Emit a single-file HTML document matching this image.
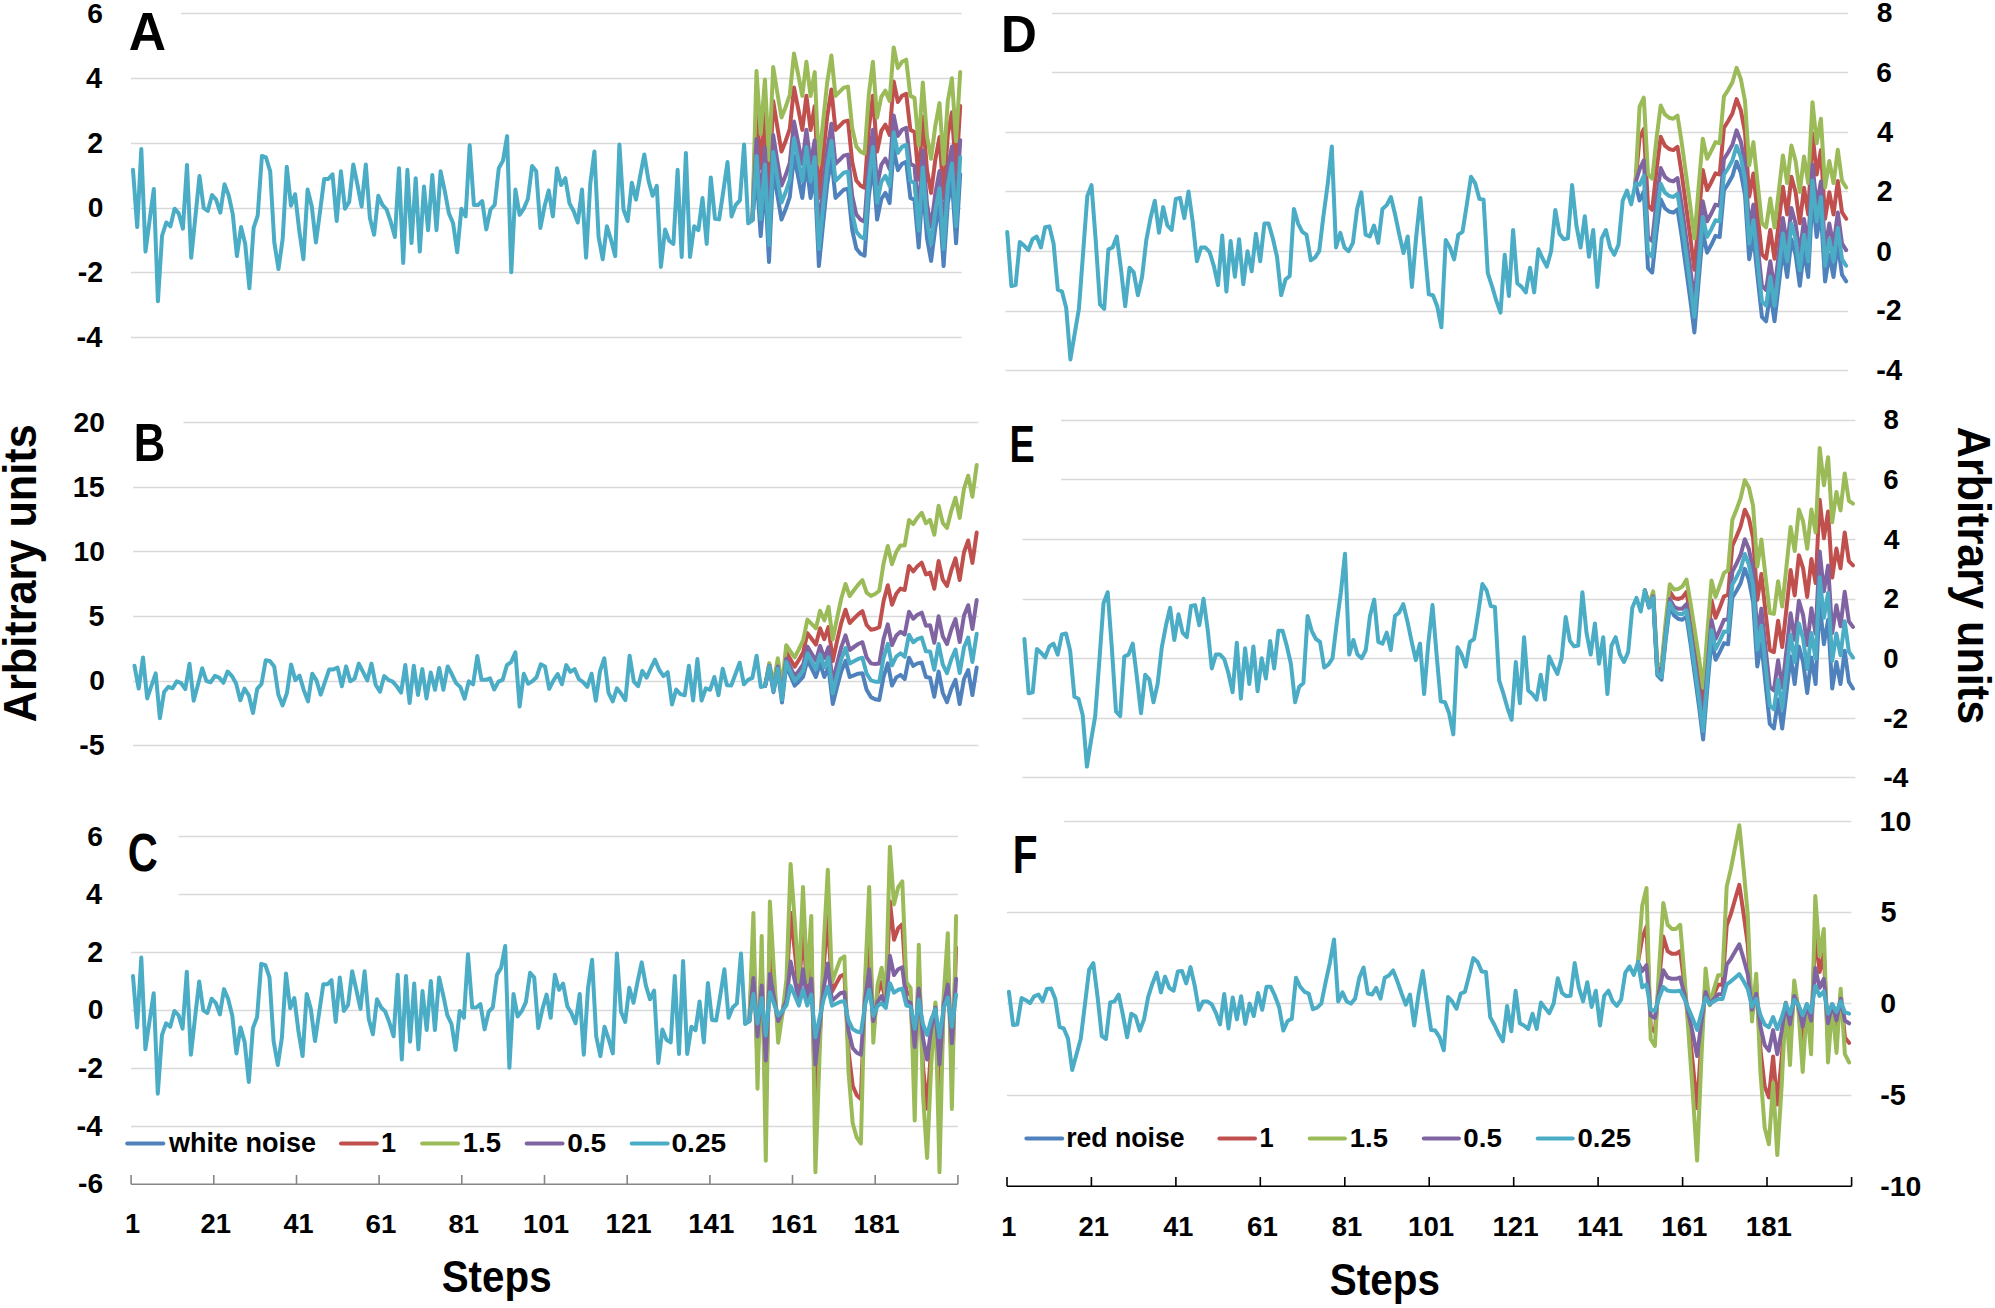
<!DOCTYPE html><html><head><meta charset="utf-8"><title>Figure</title><style>html,body{margin:0;padding:0;background:#fff;width:1995px;height:1308px;overflow:hidden}</style></head><body><svg width="1995" height="1308" viewBox="0 0 1995 1308" style="display:block;font-family:'Liberation Sans', Arial, sans-serif;font-weight:bold">
<rect width="1995" height="1308" fill="#fff"/>
<line x1="181" y1="13.5" x2="961.7" y2="13.5" stroke="#D9D9D9" stroke-width="1.3"/>
<line x1="131" y1="78.5" x2="961.7" y2="78.5" stroke="#D9D9D9" stroke-width="1.3"/>
<line x1="131" y1="143.5" x2="961.7" y2="143.5" stroke="#D9D9D9" stroke-width="1.3"/>
<line x1="131" y1="208.5" x2="961.7" y2="208.5" stroke="#D9D9D9" stroke-width="1.3"/>
<line x1="131" y1="272.5" x2="961.7" y2="272.5" stroke="#D9D9D9" stroke-width="1.3"/>
<line x1="131" y1="337.5" x2="961.7" y2="337.5" stroke="#D9D9D9" stroke-width="1.3"/>
<polyline points="752.4,220.2 756.5,173.2 760.7,236.1 764.9,181.4 769.0,261.9 773.2,169.0 777.3,194.8 781.5,219.6 785.6,209.3 789.8,196.9 794.0,155.6 798.1,176.3 802.3,197.9 806.4,163.9 810.6,197.9 814.7,174.2 818.9,266.1 823.1,223.7 827.2,184.5 831.4,157.7 835.5,197.9 839.7,193.8 843.8,189.7 848.0,188.6 852.2,229.9 856.3,248.5 860.5,253.7 864.6,255.7 868.8,196.9 872.9,163.9 877.1,219.6 881.3,199.0 885.4,192.8 889.6,203.1 893.7,149.4 897.9,170.1 902.0,163.9 906.2,161.8 910.4,197.9 914.5,200.0 918.7,247.5 922.8,184.5 927.0,238.2 931.1,260.9 935.3,227.9 939.5,205.2 943.6,266.1 947.8,203.1 951.9,180.4 956.1,243.3 960.2,174.2" fill="none" stroke="#4F81BD" stroke-width="4.0" stroke-linejoin="round" stroke-linecap="round"/>
<polyline points="752.4,220.2 756.5,105.1 760.7,168.1 764.9,113.4 769.0,193.9 773.2,101.0 777.3,126.8 781.5,151.6 785.6,141.2 789.8,128.9 794.0,87.6 798.1,108.2 802.3,129.9 806.4,95.8 810.6,129.9 814.7,106.1 818.9,198.0 823.1,155.7 827.2,116.5 831.4,89.6 835.5,129.9 839.7,125.8 843.8,121.6 848.0,120.6 852.2,161.9 856.3,180.5 860.5,185.6 864.6,187.7 868.8,128.9 872.9,95.8 877.1,151.6 881.3,130.9 885.4,124.7 889.6,135.0 893.7,81.4 897.9,102.0 902.0,95.8 906.2,93.8 910.4,129.9 914.5,132.0 918.7,179.4 922.8,116.5 927.0,170.1 931.1,192.9 935.3,159.8 939.5,137.1 943.6,198.0 947.8,135.0 951.9,112.3 956.1,175.3 960.2,106.1" fill="none" stroke="#C0504D" stroke-width="4.0" stroke-linejoin="round" stroke-linecap="round"/>
<polyline points="752.4,220.2 756.5,71.1 760.7,134.1 764.9,79.4 769.0,159.9 773.2,67.0 777.3,92.8 781.5,117.5 785.6,107.2 789.8,94.8 794.0,53.5 798.1,74.2 802.3,95.9 806.4,61.8 810.6,95.9 814.7,72.1 818.9,164.0 823.1,121.7 827.2,82.4 831.4,55.6 835.5,95.9 839.7,91.7 843.8,87.6 848.0,86.6 852.2,127.9 856.3,146.4 860.5,151.6 864.6,153.7 868.8,94.8 872.9,61.8 877.1,117.5 881.3,96.9 885.4,90.7 889.6,101.0 893.7,47.4 897.9,68.0 902.0,61.8 906.2,59.7 910.4,95.9 914.5,97.9 918.7,145.4 922.8,82.4 927.0,136.1 931.1,158.8 935.3,125.8 939.5,103.1 943.6,164.0 947.8,101.0 951.9,78.3 956.1,141.3 960.2,72.1" fill="none" stroke="#9BBB59" stroke-width="4.0" stroke-linejoin="round" stroke-linecap="round"/>
<polyline points="752.4,220.2 756.5,139.1 760.7,202.1 764.9,147.4 769.0,227.9 773.2,135.0 777.3,160.8 781.5,185.6 785.6,175.3 789.8,162.9 794.0,121.6 798.1,142.2 802.3,163.9 806.4,129.8 810.6,163.9 814.7,140.2 818.9,232.0 823.1,189.7 827.2,150.5 831.4,123.7 835.5,163.9 839.7,159.8 843.8,155.6 848.0,154.6 852.2,195.9 856.3,214.5 860.5,219.6 864.6,221.7 868.8,162.9 872.9,129.8 877.1,185.6 881.3,164.9 885.4,158.7 889.6,169.1 893.7,115.4 897.9,136.0 902.0,129.8 906.2,127.8 910.4,163.9 914.5,166.0 918.7,213.5 922.8,150.5 927.0,204.2 931.1,226.9 935.3,193.8 939.5,171.1 943.6,232.0 947.8,169.1 951.9,146.4 956.1,209.3 960.2,140.2" fill="none" stroke="#8064A2" stroke-width="4.0" stroke-linejoin="round" stroke-linecap="round"/>
<polyline points="133.0,169.8 137.2,227.1 141.3,149.1 145.5,251.6 149.6,220.2 153.8,188.9 157.9,301.3 162.1,235.5 166.3,222.5 170.4,226.3 174.6,208.7 178.7,213.3 182.9,228.6 187.0,164.9 191.2,257.7 195.4,216.7 199.5,175.9 203.7,208.0 207.8,211.0 212.0,195.0 216.1,199.6 220.3,212.6 224.5,184.3 228.6,195.0 232.8,214.1 236.9,256.1 241.1,227.1 245.2,243.9 249.4,288.3 253.6,227.9 257.7,215.6 261.9,156.0 266.0,157.5 270.2,171.3 274.3,242.4 278.5,269.1 282.7,238.6 286.8,166.7 291.0,205.7 295.1,194.2 299.3,230.9 303.4,259.2 307.6,189.6 311.8,206.5 315.9,242.4 320.1,211.0 324.2,178.9 328.4,178.9 332.5,174.3 336.7,221.0 340.9,171.3 345.0,208.7 349.2,201.9 353.3,164.4 357.5,185.0 361.6,206.5 365.8,164.4 369.9,217.9 374.1,234.7 378.3,195.7 382.4,204.9 386.6,209.5 390.7,221.7 394.9,237.0 399.0,168.2 403.2,263.0 407.4,169.8 411.5,243.1 415.7,178.2 419.8,251.6 424.0,186.6 428.1,230.2 432.3,175.1 436.5,230.2 440.6,171.3 444.8,191.2 448.9,213.3 453.1,223.3 457.2,252.3 461.4,208.7 465.6,216.4 469.7,145.3 473.9,204.9 478.0,204.9 482.2,201.1 486.3,229.4 490.5,209.5 494.7,204.9 498.8,168.2 503.0,160.6 507.1,136.1 511.3,272.2 515.4,189.6 519.6,214.9 523.8,208.7 527.9,198.8 532.1,165.9 536.2,171.3 540.4,227.9 544.5,206.5 548.7,190.4 552.9,216.4 557.0,168.2 561.2,185.0 565.3,178.2 569.5,203.4 573.6,211.0 577.8,222.5 582.0,189.6 586.1,257.7 590.3,183.5 594.4,151.4 598.6,237.0 602.7,259.2 606.9,226.3 611.1,240.1 615.2,256.1 619.4,144.5 623.5,209.5 627.7,221.0 631.8,182.8 636.0,199.6 640.2,175.9 644.3,154.5 648.5,180.5 652.6,195.7 656.8,185.8 660.9,266.9 665.1,229.4 669.3,240.9 673.4,243.9 677.6,169.8 681.7,256.9 685.9,152.9 690.0,256.9 694.2,226.3 698.4,230.2 702.5,198.0 706.7,243.9 710.8,177.4 715.0,218.7 719.1,219.4 723.3,191.2 727.5,162.1 731.6,216.4 735.8,204.9 739.9,200.3 744.1,144.5 748.2,223.3 752.4,220.2 756.5,156.1 760.7,219.1 764.9,164.4 769.0,244.9 773.2,152.0 777.3,177.8 781.5,202.6 785.6,192.3 789.8,179.9 794.0,138.6 798.1,159.2 802.3,180.9 806.4,146.9 810.6,180.9 814.7,157.2 818.9,249.0 823.1,206.7 827.2,167.5 831.4,140.7 835.5,180.9 839.7,176.8 843.8,172.7 848.0,171.6 852.2,212.9 856.3,231.5 860.5,236.7 864.6,238.7 868.8,179.9 872.9,146.9 877.1,202.6 881.3,181.9 885.4,175.8 889.6,186.1 893.7,132.4 897.9,153.0 902.0,146.9 906.2,144.8 910.4,180.9 914.5,183.0 918.7,230.5 922.8,167.5 927.0,221.2 931.1,243.9 935.3,210.9 939.5,188.1 943.6,249.0 947.8,186.1 951.9,163.4 956.1,226.3 960.2,157.2" fill="none" stroke="#4BACC6" stroke-width="4.0" stroke-linejoin="round" stroke-linecap="round"/>
<line x1="183.5" y1="422.5" x2="978.5" y2="422.5" stroke="#D9D9D9" stroke-width="1.3"/>
<line x1="133" y1="487.5" x2="978.5" y2="487.5" stroke="#D9D9D9" stroke-width="1.3"/>
<line x1="133" y1="551.5" x2="978.5" y2="551.5" stroke="#D9D9D9" stroke-width="1.3"/>
<line x1="133" y1="616.5" x2="978.5" y2="616.5" stroke="#D9D9D9" stroke-width="1.3"/>
<line x1="133" y1="681.5" x2="978.5" y2="681.5" stroke="#D9D9D9" stroke-width="1.3"/>
<line x1="133" y1="745.5" x2="978.5" y2="745.5" stroke="#D9D9D9" stroke-width="1.3"/>
<polyline points="765.1,685.9 769.3,667.1 773.5,692.2 777.8,670.4 782.0,702.5 786.2,665.5 790.5,675.8 794.7,685.6 798.9,681.5 803.2,676.6 807.4,660.1 811.6,668.3 815.9,677.0 820.1,663.4 824.3,677.0 828.5,667.5 832.8,704.1 837.0,687.3 841.2,671.6 845.5,660.9 849.7,677.0 853.9,675.3 858.2,673.7 862.4,673.3 866.6,689.7 870.9,697.1 875.1,699.2 879.3,700.0 883.6,676.6 887.8,663.4 892.0,685.6 896.3,677.4 900.5,674.9 904.7,679.0 909.0,657.7 913.2,665.9 917.4,663.4 921.7,662.6 925.9,677.0 930.1,677.8 934.3,696.7 938.6,671.6 942.8,693.0 947.0,702.1 951.3,688.9 955.5,679.9 959.7,704.1 964.0,679.0 968.2,670.0 972.4,695.1 976.7,667.5" fill="none" stroke="#4F81BD" stroke-width="4.0" stroke-linejoin="round" stroke-linecap="round"/>
<polyline points="765.1,685.9 769.3,664.4 773.5,686.8 777.8,662.3 782.0,691.7 786.2,652.0 790.5,659.6 794.7,666.7 798.9,659.9 803.2,652.3 807.4,633.1 811.6,638.7 815.9,644.6 820.1,628.3 824.3,639.2 828.5,627.0 832.8,661.0 837.0,641.4 841.2,623.1 845.5,609.7 849.7,623.0 853.9,618.7 858.2,614.3 862.4,611.2 866.6,625.0 870.9,629.7 875.1,629.0 879.3,627.2 883.6,601.0 887.8,585.2 892.0,604.7 896.3,593.7 900.5,588.6 904.7,590.0 909.0,565.9 913.2,571.4 917.4,566.3 921.7,562.7 925.9,574.4 930.1,572.6 934.3,588.8 938.6,561.0 942.8,579.7 947.0,586.0 951.3,570.2 955.5,558.4 959.7,580.0 964.0,552.2 968.2,540.5 972.4,562.9 976.7,532.6" fill="none" stroke="#C0504D" stroke-width="4.0" stroke-linejoin="round" stroke-linecap="round"/>
<polyline points="765.1,685.9 769.3,663.1 773.5,684.1 777.8,658.3 782.0,686.3 786.2,645.2 790.5,651.5 794.7,657.3 798.9,649.1 803.2,640.1 807.4,619.6 811.6,623.8 815.9,628.4 820.1,610.8 824.3,620.3 828.5,606.8 832.8,639.4 837.0,618.5 841.2,598.8 845.5,584.0 849.7,596.0 853.9,590.3 858.2,584.6 862.4,580.2 866.6,592.6 870.9,595.9 875.1,594.0 879.3,590.7 883.6,563.2 887.8,546.0 892.0,564.2 896.3,551.9 900.5,545.4 904.7,545.5 909.0,520.0 913.2,524.2 917.4,517.7 921.7,512.8 925.9,523.2 930.1,519.9 934.3,534.8 938.6,505.7 942.8,523.0 947.0,528.0 951.3,510.8 955.5,497.7 959.7,517.9 964.0,488.8 968.2,475.7 972.4,496.7 976.7,465.1" fill="none" stroke="#9BBB59" stroke-width="4.0" stroke-linejoin="round" stroke-linecap="round"/>
<polyline points="765.1,685.9 769.3,665.8 773.5,689.5 777.8,666.4 782.0,697.1 786.2,658.7 790.5,667.7 794.7,676.2 798.9,670.7 803.2,664.4 807.4,646.6 811.6,653.5 815.9,660.8 820.1,645.9 824.3,658.1 828.5,647.3 832.8,682.5 837.0,664.3 841.2,647.4 845.5,635.3 849.7,650.0 853.9,647.0 858.2,644.0 862.4,642.2 866.6,657.4 870.9,663.4 875.1,664.1 879.3,663.6 883.6,638.8 887.8,624.3 892.0,645.1 896.3,635.6 900.5,631.8 904.7,634.5 909.0,611.8 913.2,618.7 917.4,614.8 921.7,612.7 925.9,625.7 930.1,625.2 934.3,642.8 938.6,616.3 942.8,636.4 947.0,644.1 951.3,629.5 955.5,619.1 959.7,642.1 964.0,615.6 968.2,605.2 972.4,629.0 976.7,600.1" fill="none" stroke="#8064A2" stroke-width="4.0" stroke-linejoin="round" stroke-linecap="round"/>
<polyline points="134.5,665.8 138.7,688.6 143.0,657.5 147.2,698.4 151.4,685.9 155.7,673.4 159.9,718.2 164.1,692.0 168.4,686.8 172.6,688.3 176.8,681.3 181.1,683.1 185.3,689.2 189.5,663.8 193.7,700.8 198.0,684.5 202.2,668.2 206.4,681.0 210.7,682.2 214.9,675.8 219.1,677.6 223.4,682.8 227.6,671.5 231.8,675.8 236.1,683.4 240.3,700.2 244.5,688.6 248.8,695.3 253.0,713.0 257.2,688.9 261.5,684.0 265.7,660.3 269.9,660.9 274.2,666.4 278.4,694.7 282.6,705.4 286.9,693.2 291.1,664.5 295.3,680.1 299.5,675.5 303.8,690.1 308.0,701.4 312.2,673.7 316.5,680.4 320.7,694.7 324.9,682.2 329.2,669.4 333.4,669.4 337.6,667.6 341.9,686.2 346.1,666.4 350.3,681.3 354.6,678.6 358.8,663.6 363.0,671.9 367.3,680.4 371.5,663.6 375.7,685.0 380.0,691.7 384.2,676.1 388.4,679.8 392.7,681.6 396.9,686.5 401.1,692.6 405.3,665.1 409.6,702.9 413.8,665.8 418.0,695.0 422.3,669.1 426.5,698.4 430.7,672.5 435.0,689.8 439.2,667.9 443.4,689.8 447.7,666.4 451.9,674.3 456.1,683.1 460.4,687.1 464.6,698.7 468.8,681.3 473.1,684.3 477.3,656.0 481.5,679.8 485.8,679.8 490.0,678.3 494.2,689.5 498.5,681.6 502.7,679.8 506.9,665.1 511.1,662.1 515.4,652.4 519.6,706.6 523.8,673.7 528.1,683.7 532.3,681.3 536.5,677.3 540.8,664.2 545.0,666.4 549.2,688.9 553.5,680.4 557.7,674.0 561.9,684.3 566.2,665.1 570.4,671.9 574.6,669.1 578.9,679.2 583.1,682.2 587.3,686.8 591.6,673.7 595.8,700.8 600.0,671.2 604.3,658.4 608.5,692.6 612.7,701.4 616.9,688.3 621.2,693.8 625.4,700.2 629.6,655.7 633.9,681.6 638.1,686.2 642.3,670.9 646.6,677.6 650.8,668.2 655.0,659.7 659.3,670.0 663.5,676.1 667.7,672.2 672.0,704.5 676.2,689.5 680.4,694.1 684.7,695.3 688.9,665.8 693.1,700.5 697.4,659.1 701.6,700.5 705.8,688.3 710.1,689.8 714.3,677.0 718.5,695.3 722.7,668.8 727.0,685.3 731.2,685.6 735.4,674.3 739.7,662.7 743.9,684.3 748.1,679.8 752.4,677.9 756.6,655.7 760.8,687.1 765.1,685.9 769.3,666.4 773.5,690.9 777.8,668.4 782.0,699.8 786.2,662.1 790.5,671.7 794.7,680.9 798.9,676.1 803.2,670.5 807.4,653.4 811.6,660.9 815.9,668.9 820.1,654.6 824.3,667.5 828.5,657.4 832.8,693.3 837.0,675.8 841.2,659.5 845.5,648.1 849.7,663.5 853.9,661.2 858.2,658.9 862.4,657.8 866.6,673.5 870.9,680.3 875.1,681.7 879.3,681.8 883.6,657.7 887.8,643.8 892.0,665.4 896.3,656.5 900.5,653.3 904.7,656.8 909.0,634.7 913.2,642.3 917.4,639.1 921.7,637.6 925.9,651.3 930.1,651.5 934.3,669.7 938.6,644.0 942.8,664.7 947.0,673.1 951.3,659.2 955.5,649.5 959.7,673.1 964.0,647.3 968.2,637.6 972.4,662.0 976.7,633.8" fill="none" stroke="#4BACC6" stroke-width="4.0" stroke-linejoin="round" stroke-linecap="round"/>
<line x1="178.4" y1="836.5" x2="957.9" y2="836.5" stroke="#D9D9D9" stroke-width="1.3"/>
<line x1="178.4" y1="894.5" x2="957.9" y2="894.5" stroke="#D9D9D9" stroke-width="1.3"/>
<line x1="131.1" y1="952.5" x2="957.9" y2="952.5" stroke="#D9D9D9" stroke-width="1.3"/>
<line x1="131.1" y1="1010.5" x2="957.9" y2="1010.5" stroke="#D9D9D9" stroke-width="1.3"/>
<line x1="131.1" y1="1068.5" x2="957.9" y2="1068.5" stroke="#D9D9D9" stroke-width="1.3"/>
<line x1="131.1" y1="1126.5" x2="957.9" y2="1126.5" stroke="#D9D9D9" stroke-width="1.3"/>
<polyline points="749.3,1021.2 753.4,945.5 757.5,1062.6 761.7,960.8 765.8,1110.6 769.9,937.8 774.1,985.8 778.2,1031.9 782.4,1012.7 786.5,989.6 790.6,912.8 794.8,951.2 798.9,991.6 803.0,928.2 807.2,991.6 811.3,947.4 815.4,1118.3 819.6,1039.6 823.7,966.6 827.8,916.7 832.0,991.6 836.1,983.9 840.3,976.2 844.4,974.3 848.5,1051.1 852.7,1085.7 856.8,1095.3 860.9,1099.1 865.1,989.6 869.2,928.2 873.3,1031.9 877.5,993.5 881.6,982.0 885.8,1001.2 889.9,901.3 894.0,939.7 898.2,928.2 902.3,924.3 906.4,991.6 910.6,995.4 914.7,1083.7 918.8,966.6 923.0,1066.5 927.1,1108.7 931.2,1047.3 935.4,1005.0 939.5,1118.3 943.7,1001.2 947.8,958.9 951.9,1076.1 956.1,947.4" fill="none" stroke="#C0504D" stroke-width="4.0" stroke-linejoin="round" stroke-linecap="round"/>
<polyline points="749.3,1021.2 753.4,913.1 757.5,1088.8 761.7,936.1 765.8,1160.8 769.9,901.5 774.1,973.5 778.2,1042.7 782.4,1013.9 786.5,979.3 790.6,864.1 794.8,921.7 798.9,982.2 803.0,887.1 807.2,982.2 811.3,915.9 815.4,1172.3 819.6,1054.2 823.7,944.7 827.8,869.8 832.0,982.2 836.1,970.7 840.3,959.1 844.4,956.3 848.5,1071.5 852.7,1123.3 856.8,1137.7 860.9,1143.5 865.1,979.3 869.2,887.1 873.3,1042.7 877.5,985.1 881.6,967.8 885.8,996.6 889.9,846.8 894.0,904.4 898.2,887.1 902.3,881.4 906.4,982.2 910.6,988.0 914.7,1120.5 918.8,944.7 923.0,1094.5 927.1,1157.9 931.2,1065.7 935.4,1002.4 939.5,1172.3 943.7,996.6 947.8,933.2 951.9,1108.9 956.1,915.9" fill="none" stroke="#9BBB59" stroke-width="4.0" stroke-linejoin="round" stroke-linecap="round"/>
<polyline points="749.3,1021.2 753.4,977.9 757.5,1036.5 761.7,985.6 765.8,1060.5 769.9,974.0 774.1,998.0 778.2,1021.1 782.4,1011.5 786.5,1000.0 790.6,961.6 794.8,980.8 798.9,1000.9 803.0,969.2 807.2,1000.9 811.3,978.8 815.4,1064.3 819.6,1024.9 823.7,988.4 827.8,963.5 832.0,1000.9 836.1,997.1 840.3,993.2 844.4,992.3 848.5,1030.7 852.7,1048.0 856.8,1052.8 860.9,1054.7 865.1,1000.0 869.2,969.2 873.3,1021.1 877.5,1001.9 881.6,996.1 885.8,1005.7 889.9,955.8 894.0,975.0 898.2,969.2 902.3,967.3 906.4,1000.9 910.6,1002.9 914.7,1047.0 918.8,988.4 923.0,1038.4 927.1,1059.5 931.2,1028.8 935.4,1007.7 939.5,1064.3 943.7,1005.7 947.8,984.6 951.9,1043.2 956.1,978.8" fill="none" stroke="#8064A2" stroke-width="4.0" stroke-linejoin="round" stroke-linecap="round"/>
<polyline points="133.0,976.1 137.1,1027.4 141.3,957.6 145.4,1049.3 149.5,1021.2 153.7,993.2 157.8,1093.7 162.0,1034.9 166.1,1023.3 170.2,1026.7 174.4,1011.0 178.5,1015.1 182.6,1028.7 186.8,971.7 190.9,1054.7 195.0,1018.1 199.2,981.6 203.3,1010.3 207.4,1013.0 211.6,998.7 215.7,1002.8 219.9,1014.4 224.0,989.1 228.1,998.7 232.3,1015.8 236.4,1053.4 240.5,1027.4 244.7,1042.4 248.8,1082.1 252.9,1028.1 257.1,1017.1 261.2,963.8 265.4,965.2 269.5,977.5 273.6,1041.1 277.8,1065.0 281.9,1037.6 286.0,973.4 290.2,1008.2 294.3,998.0 298.4,1030.8 302.6,1056.1 306.7,993.9 310.8,1008.9 315.0,1041.1 319.1,1013.0 323.3,984.3 327.4,984.3 331.5,980.2 335.7,1021.9 339.8,977.5 343.9,1011.0 348.1,1004.8 352.2,971.3 356.3,989.8 360.5,1008.9 364.6,971.3 368.8,1019.2 372.9,1034.2 377.0,999.3 381.2,1007.5 385.3,1011.7 389.4,1022.6 393.6,1036.3 397.7,974.7 401.8,1059.5 406.0,976.1 410.1,1041.7 414.2,983.6 418.4,1049.3 422.5,991.1 426.7,1030.1 430.8,980.9 434.9,1030.1 439.1,977.5 443.2,995.2 447.3,1015.1 451.5,1024.0 455.6,1049.9 459.7,1011.0 463.9,1017.8 468.0,954.2 472.2,1007.5 476.3,1007.5 480.4,1004.1 484.6,1029.4 488.7,1011.7 492.8,1007.5 497.0,974.7 501.1,967.9 505.2,946.0 509.4,1067.7 513.5,993.9 517.6,1016.4 521.8,1011.0 525.9,1002.1 530.1,972.7 534.2,977.5 538.3,1028.1 542.5,1008.9 546.6,994.6 550.7,1017.8 554.9,974.7 559.0,989.8 563.1,983.6 567.3,1006.2 571.4,1013.0 575.6,1023.3 579.7,993.9 583.8,1054.7 588.0,988.4 592.1,959.7 596.2,1036.3 600.4,1056.1 604.5,1026.7 608.6,1039.0 612.8,1053.4 616.9,953.5 621.0,1011.7 625.2,1021.9 629.3,987.7 633.5,1002.8 637.6,981.6 641.7,962.4 645.9,985.7 650.0,999.3 654.1,990.5 658.3,1062.9 662.4,1029.4 666.5,1039.7 670.7,1042.4 674.8,976.1 679.0,1054.0 683.1,961.0 687.2,1054.0 691.4,1026.7 695.5,1030.1 699.6,1001.4 703.8,1042.4 707.9,982.9 712.0,1019.9 716.2,1020.5 720.3,995.2 724.4,969.3 728.6,1017.8 732.7,1007.5 736.9,1003.4 741.0,953.5 745.1,1024.0 749.3,1021.2 753.4,994.1 757.5,1023.4 761.7,997.9 765.8,1035.4 769.9,992.2 774.1,1004.2 778.2,1015.7 782.4,1010.9 786.5,1005.1 790.6,985.9 794.8,995.5 798.9,1005.6 803.0,989.8 807.2,1005.6 811.3,994.6 815.4,1037.3 819.6,1017.6 823.7,999.4 827.8,986.9 832.0,1005.6 836.1,1003.7 840.3,1001.8 844.4,1001.3 848.5,1020.5 852.7,1029.1 856.8,1031.5 860.9,1032.5 865.1,1005.1 869.2,989.8 873.3,1015.7 877.5,1006.1 881.6,1003.2 885.8,1008.0 889.9,983.1 894.0,992.7 898.2,989.8 902.3,988.8 906.4,1005.6 910.6,1006.6 914.7,1028.7 918.8,999.4 923.0,1024.3 927.1,1034.9 931.2,1019.5 935.4,1009.0 939.5,1037.3 943.7,1008.0 947.8,997.5 951.9,1026.7 956.1,994.6" fill="none" stroke="#4BACC6" stroke-width="4.0" stroke-linejoin="round" stroke-linecap="round"/>
<line x1="1052" y1="13.5" x2="1848" y2="13.5" stroke="#D9D9D9" stroke-width="1.3"/>
<line x1="1052" y1="72.5" x2="1848" y2="72.5" stroke="#D9D9D9" stroke-width="1.3"/>
<line x1="1005.4" y1="132.5" x2="1848" y2="132.5" stroke="#D9D9D9" stroke-width="1.3"/>
<line x1="1005.4" y1="191.5" x2="1848" y2="191.5" stroke="#D9D9D9" stroke-width="1.3"/>
<line x1="1005.4" y1="251.5" x2="1848" y2="251.5" stroke="#D9D9D9" stroke-width="1.3"/>
<line x1="1005.4" y1="311.5" x2="1848" y2="311.5" stroke="#D9D9D9" stroke-width="1.3"/>
<line x1="1005.4" y1="370.5" x2="1848" y2="370.5" stroke="#D9D9D9" stroke-width="1.3"/>
<polyline points="1635.4,183.3 1639.6,200.5 1643.8,191.6 1648.0,268.1 1652.2,272.5 1656.5,232.6 1660.7,199.4 1664.9,208.2 1669.1,211.5 1673.3,212.7 1677.5,209.3 1681.8,237.0 1686.0,268.1 1690.2,299.1 1694.4,332.4 1698.6,281.4 1702.8,232.6 1707.1,252.6 1711.3,244.8 1715.5,235.9 1719.7,237.0 1723.9,190.5 1728.1,183.8 1732.4,176.1 1736.6,161.7 1740.8,172.7 1745.0,194.9 1749.2,259.2 1753.4,235.9 1757.6,277.0 1761.9,316.9 1766.1,321.3 1770.3,292.5 1774.5,321.3 1778.7,285.8 1782.9,249.2 1787.2,277.0 1791.4,239.3 1795.6,254.8 1799.8,285.8 1804.0,250.4 1808.2,277.0 1812.5,196.0 1816.7,237.0 1820.9,212.7 1825.1,281.4 1829.3,254.8 1833.5,277.0 1837.8,243.7 1842.0,274.7 1846.2,281.4" fill="none" stroke="#4F81BD" stroke-width="4.0" stroke-linejoin="round" stroke-linecap="round"/>
<polyline points="1635.4,183.3 1639.6,137.9 1643.8,129.0 1648.0,205.5 1652.2,209.9 1656.5,170.0 1660.7,136.8 1664.9,145.6 1669.1,149.0 1673.3,150.1 1677.5,146.8 1681.8,174.5 1686.0,205.5 1690.2,236.6 1694.4,269.8 1698.6,218.8 1702.8,170.0 1707.1,190.0 1711.3,182.2 1715.5,173.4 1719.7,174.5 1723.9,127.9 1728.1,121.3 1732.4,113.5 1736.6,99.1 1740.8,110.2 1745.0,132.3 1749.2,196.6 1753.4,173.4 1757.6,214.4 1761.9,254.3 1766.1,258.7 1770.3,229.9 1774.5,258.7 1778.7,223.2 1782.9,186.7 1787.2,214.4 1791.4,176.7 1795.6,192.2 1799.8,223.2 1804.0,187.8 1808.2,214.4 1812.5,133.4 1816.7,174.5 1820.9,150.1 1825.1,218.8 1829.3,192.2 1833.5,214.4 1837.8,181.1 1842.0,212.2 1846.2,218.8" fill="none" stroke="#C0504D" stroke-width="4.0" stroke-linejoin="round" stroke-linecap="round"/>
<polyline points="1635.4,183.3 1639.6,106.6 1643.8,97.7 1648.0,174.2 1652.2,178.7 1656.5,138.7 1660.7,105.5 1664.9,114.4 1669.1,117.7 1673.3,118.8 1677.5,115.5 1681.8,143.2 1686.0,174.2 1690.2,205.3 1694.4,238.5 1698.6,187.5 1702.8,138.7 1707.1,158.7 1711.3,150.9 1715.5,142.1 1719.7,143.2 1723.9,96.6 1728.1,90.0 1732.4,82.2 1736.6,67.8 1740.8,78.9 1745.0,101.0 1749.2,165.3 1753.4,142.1 1757.6,183.1 1761.9,223.0 1766.1,227.4 1770.3,198.6 1774.5,227.4 1778.7,192.0 1782.9,155.4 1787.2,183.1 1791.4,145.4 1795.6,160.9 1799.8,192.0 1804.0,156.5 1808.2,183.1 1812.5,102.2 1816.7,143.2 1820.9,118.8 1825.1,187.5 1829.3,160.9 1833.5,183.1 1837.8,149.8 1842.0,180.9 1846.2,187.5" fill="none" stroke="#9BBB59" stroke-width="4.0" stroke-linejoin="round" stroke-linecap="round"/>
<polyline points="1635.4,183.3 1639.6,169.2 1643.8,160.3 1648.0,236.8 1652.2,241.2 1656.5,201.3 1660.7,168.1 1664.9,176.9 1669.1,180.3 1673.3,181.4 1677.5,178.0 1681.8,205.8 1686.0,236.8 1690.2,267.8 1694.4,301.1 1698.6,250.1 1702.8,201.3 1707.1,221.3 1711.3,213.5 1715.5,204.6 1719.7,205.8 1723.9,159.2 1728.1,152.5 1732.4,144.8 1736.6,130.4 1740.8,141.5 1745.0,163.6 1749.2,227.9 1753.4,204.6 1757.6,245.7 1761.9,285.6 1766.1,290.0 1770.3,261.2 1774.5,290.0 1778.7,254.5 1782.9,218.0 1787.2,245.7 1791.4,208.0 1795.6,223.5 1799.8,254.5 1804.0,219.1 1808.2,245.7 1812.5,164.7 1816.7,205.8 1820.9,181.4 1825.1,250.1 1829.3,223.5 1833.5,245.7 1837.8,212.4 1842.0,243.5 1846.2,250.1" fill="none" stroke="#8064A2" stroke-width="4.0" stroke-linejoin="round" stroke-linecap="round"/>
<polyline points="1007.2,231.9 1011.4,286.0 1015.6,285.1 1019.8,242.0 1024.1,245.6 1028.3,250.2 1032.5,239.2 1036.7,236.5 1040.9,247.5 1045.1,227.3 1049.4,226.4 1053.6,243.8 1057.8,289.7 1062.0,291.5 1066.2,308.0 1070.4,359.4 1074.7,333.7 1078.9,308.9 1083.1,253.0 1087.3,196.1 1091.5,185.1 1095.7,240.1 1100.0,304.4 1104.2,308.9 1108.4,249.3 1112.6,247.5 1116.8,236.5 1121.0,269.5 1125.2,306.2 1129.5,267.7 1133.7,272.3 1137.9,295.2 1142.1,276.8 1146.3,240.1 1150.5,218.1 1154.8,200.7 1159.0,232.8 1163.2,207.1 1167.4,225.5 1171.6,230.0 1175.8,198.9 1180.1,197.9 1184.3,218.1 1188.5,191.5 1192.7,221.8 1196.9,261.2 1201.1,247.5 1205.4,247.5 1209.6,252.1 1213.8,265.8 1218.0,285.1 1222.2,235.6 1226.4,291.5 1230.6,241.1 1234.9,276.8 1239.1,239.2 1243.3,284.2 1247.5,251.2 1251.7,271.3 1255.9,233.7 1260.2,261.2 1264.4,223.6 1268.6,223.6 1272.8,238.3 1277.0,256.7 1281.2,295.2 1285.5,279.6 1289.7,275.9 1293.9,208.9 1298.1,223.6 1302.3,231.9 1306.5,234.6 1310.8,260.3 1315.0,257.6 1319.2,251.2 1323.4,216.3 1327.6,185.1 1331.8,146.6 1336.0,247.5 1340.3,232.8 1344.5,247.5 1348.7,251.2 1352.9,242.9 1357.1,208.9 1361.3,192.4 1365.6,234.6 1369.8,236.5 1374.0,225.5 1378.2,242.9 1382.4,208.9 1386.6,205.3 1390.9,197.0 1395.1,214.5 1399.3,234.6 1403.5,253.0 1407.7,236.5 1411.9,286.9 1416.2,236.5 1420.4,197.9 1424.6,247.5 1428.8,294.3 1433.0,295.2 1437.2,306.2 1441.4,327.3 1445.7,240.1 1449.9,247.5 1454.1,259.4 1458.3,234.6 1462.5,231.9 1466.7,205.3 1471.0,176.8 1475.2,183.3 1479.4,198.9 1483.6,199.8 1487.8,273.2 1492.0,286.0 1496.3,300.7 1500.5,312.6 1504.7,254.8 1508.9,296.1 1513.1,230.0 1517.3,283.3 1521.6,286.9 1525.8,292.4 1530.0,267.7 1534.2,292.4 1538.4,249.3 1542.6,258.5 1546.8,266.7 1551.1,251.2 1555.3,209.9 1559.5,233.7 1563.7,239.2 1567.9,238.3 1572.1,185.1 1576.4,225.5 1580.6,247.5 1584.8,216.3 1589.0,256.7 1593.2,230.0 1597.4,286.9 1601.7,238.3 1605.9,230.0 1610.1,247.5 1614.3,254.8 1618.5,244.7 1622.7,200.7 1627.0,190.6 1631.2,204.4 1635.4,183.3 1639.6,184.8 1643.8,175.9 1648.0,252.4 1652.2,256.9 1656.5,217.0 1660.7,183.7 1664.9,192.6 1669.1,195.9 1673.3,197.0 1677.5,193.7 1681.8,221.4 1686.0,252.4 1690.2,283.5 1694.4,316.7 1698.6,265.7 1702.8,217.0 1707.1,236.9 1711.3,229.2 1715.5,220.3 1719.7,221.4 1723.9,174.8 1728.1,168.2 1732.4,160.4 1736.6,146.0 1740.8,157.1 1745.0,179.3 1749.2,243.6 1753.4,220.3 1757.6,261.3 1761.9,301.2 1766.1,305.7 1770.3,276.8 1774.5,305.7 1778.7,270.2 1782.9,233.6 1787.2,261.3 1791.4,223.6 1795.6,239.1 1799.8,270.2 1804.0,234.7 1808.2,261.3 1812.5,180.4 1816.7,221.4 1820.9,197.0 1825.1,265.7 1829.3,239.1 1833.5,261.3 1837.8,228.1 1842.0,259.1 1846.2,265.7" fill="none" stroke="#4BACC6" stroke-width="4.0" stroke-linejoin="round" stroke-linecap="round"/>
<line x1="1061" y1="420.5" x2="1855.4" y2="420.5" stroke="#D9D9D9" stroke-width="1.3"/>
<line x1="1061" y1="479.5" x2="1855.4" y2="479.5" stroke="#D9D9D9" stroke-width="1.3"/>
<line x1="1022.6" y1="539.5" x2="1855.4" y2="539.5" stroke="#D9D9D9" stroke-width="1.3"/>
<line x1="1022.6" y1="599.5" x2="1855.4" y2="599.5" stroke="#D9D9D9" stroke-width="1.3"/>
<line x1="1022.6" y1="658.5" x2="1855.4" y2="658.5" stroke="#D9D9D9" stroke-width="1.3"/>
<line x1="1022.6" y1="718.5" x2="1855.4" y2="718.5" stroke="#D9D9D9" stroke-width="1.3"/>
<line x1="1022.6" y1="777.5" x2="1855.4" y2="777.5" stroke="#D9D9D9" stroke-width="1.3"/>
<polyline points="1644.8,590.4 1649.0,607.6 1653.2,598.7 1657.3,675.2 1661.5,679.7 1665.7,639.8 1669.8,606.5 1674.0,615.4 1678.1,618.7 1682.3,619.8 1686.5,616.5 1690.6,644.2 1694.8,675.2 1699.0,706.3 1703.1,739.5 1707.3,688.5 1711.5,639.8 1715.6,659.7 1719.8,652.0 1724.0,643.1 1728.1,644.2 1732.3,597.6 1736.4,591.0 1740.6,583.2 1744.8,568.8 1748.9,579.9 1753.1,602.1 1757.3,666.4 1761.4,643.1 1765.6,684.1 1769.8,724.0 1773.9,728.5 1778.1,699.6 1782.2,728.5 1786.4,693.0 1790.6,656.4 1794.7,684.1 1798.9,646.4 1803.1,661.9 1807.2,693.0 1811.4,657.5 1815.6,684.1 1819.7,603.2 1823.9,644.2 1828.1,619.8 1832.2,688.5 1836.4,661.9 1840.5,684.1 1844.7,650.8 1848.9,681.9 1853.0,688.5" fill="none" stroke="#4F81BD" stroke-width="4.0" stroke-linejoin="round" stroke-linecap="round"/>
<polyline points="1644.8,590.4 1649.0,605.1 1653.2,593.8 1657.3,667.8 1661.5,669.8 1665.7,627.4 1669.8,591.7 1674.0,598.1 1678.1,599.0 1682.3,597.6 1686.5,591.8 1690.6,617.1 1694.8,645.7 1699.0,674.2 1703.1,705.0 1707.3,651.6 1711.5,600.3 1715.6,617.8 1719.8,607.6 1724.0,596.3 1728.1,594.9 1732.3,545.9 1736.4,536.8 1740.6,526.5 1744.8,509.7 1748.9,518.3 1753.1,538.0 1757.3,599.8 1761.4,574.1 1765.6,612.6 1769.8,650.1 1773.9,652.1 1778.1,620.8 1782.2,647.1 1786.4,609.2 1790.6,570.1 1794.7,595.4 1798.9,555.2 1803.1,568.3 1807.2,596.9 1811.4,558.9 1815.6,583.1 1819.7,499.7 1823.9,538.2 1828.1,511.4 1832.2,577.6 1836.4,548.6 1840.5,568.3 1844.7,532.6 1848.9,561.1 1853.0,565.3" fill="none" stroke="#C0504D" stroke-width="4.0" stroke-linejoin="round" stroke-linecap="round"/>
<polyline points="1644.8,590.4 1649.0,603.9 1653.2,591.3 1657.3,664.1 1661.5,664.9 1665.7,621.3 1669.8,584.3 1674.0,589.5 1678.1,589.1 1682.3,586.5 1686.5,579.5 1690.6,603.5 1694.8,630.9 1699.0,658.2 1703.1,687.8 1707.3,633.1 1711.5,580.6 1715.6,596.9 1719.8,585.4 1724.0,572.9 1728.1,570.3 1732.3,520.0 1736.4,509.7 1740.6,498.2 1744.8,480.1 1748.9,487.5 1753.1,506.0 1757.3,566.6 1761.4,539.6 1765.6,576.9 1769.8,613.1 1773.9,613.9 1778.1,581.3 1782.2,606.5 1786.4,567.3 1790.6,527.0 1794.7,551.0 1798.9,509.6 1803.1,521.5 1807.2,548.8 1811.4,509.6 1815.6,532.5 1819.7,447.9 1823.9,485.2 1828.1,457.2 1832.2,522.2 1836.4,491.9 1840.5,510.4 1844.7,473.4 1848.9,500.8 1853.0,503.7" fill="none" stroke="#9BBB59" stroke-width="4.0" stroke-linejoin="round" stroke-linecap="round"/>
<polyline points="1644.8,590.4 1649.0,606.4 1653.2,596.3 1657.3,671.5 1661.5,674.7 1665.7,633.6 1669.8,599.1 1674.0,606.7 1678.1,608.8 1682.3,608.7 1686.5,604.2 1690.6,630.6 1694.8,660.5 1699.0,690.3 1703.1,722.3 1707.3,670.1 1711.5,620.0 1715.6,638.8 1719.8,629.8 1724.0,619.7 1728.1,619.6 1732.3,571.8 1736.4,563.9 1740.6,554.9 1744.8,539.2 1748.9,549.1 1753.1,570.0 1757.3,633.1 1761.4,608.6 1765.6,648.4 1769.8,687.1 1773.9,690.3 1778.1,660.2 1782.2,687.8 1786.4,651.1 1790.6,613.3 1794.7,639.7 1798.9,600.8 1803.1,615.1 1807.2,644.9 1811.4,608.2 1815.6,633.6 1819.7,551.4 1823.9,591.2 1828.1,565.6 1832.2,633.1 1836.4,605.3 1840.5,626.2 1844.7,591.7 1848.9,621.5 1853.0,626.9" fill="none" stroke="#8064A2" stroke-width="4.0" stroke-linejoin="round" stroke-linecap="round"/>
<polyline points="1024.4,639.0 1028.6,693.2 1032.7,692.2 1036.9,649.1 1041.1,652.8 1045.2,657.4 1049.4,646.4 1053.5,643.6 1057.7,654.6 1061.9,634.4 1066.0,633.5 1070.2,651.0 1074.4,696.8 1078.5,698.7 1082.7,715.2 1086.9,766.6 1091.0,740.9 1095.2,716.1 1099.4,660.1 1103.5,603.3 1107.7,592.2 1111.8,647.3 1116.0,711.5 1120.2,716.1 1124.3,656.5 1128.5,654.6 1132.7,643.6 1136.8,676.6 1141.0,713.3 1145.2,674.8 1149.3,679.4 1153.5,702.3 1157.6,684.0 1161.8,647.3 1166.0,625.3 1170.1,607.8 1174.3,640.0 1178.5,614.3 1182.6,632.6 1186.8,637.2 1191.0,606.0 1195.1,605.1 1199.3,625.3 1203.5,598.7 1207.6,628.9 1211.8,668.4 1215.9,654.6 1220.1,654.6 1224.3,659.2 1228.4,673.0 1232.6,692.2 1236.8,642.7 1240.9,698.7 1245.1,648.2 1249.3,684.0 1253.4,646.4 1257.6,691.3 1261.7,658.3 1265.9,678.5 1270.1,640.9 1274.2,668.4 1278.4,630.8 1282.6,630.8 1286.7,645.5 1290.9,663.8 1295.1,702.3 1299.2,686.7 1303.4,683.1 1307.6,616.1 1311.7,630.8 1315.9,639.0 1320.0,641.8 1324.2,667.5 1328.4,664.7 1332.5,658.3 1336.7,623.4 1340.9,592.2 1345.0,553.7 1349.2,654.6 1353.4,640.0 1357.5,654.6 1361.7,658.3 1365.8,650.0 1370.0,616.1 1374.2,599.6 1378.3,641.8 1382.5,643.6 1386.7,632.6 1390.8,650.0 1395.0,616.1 1399.2,612.4 1403.3,604.2 1407.5,621.6 1411.7,641.8 1415.8,660.1 1420.0,643.6 1424.1,694.1 1428.3,643.6 1432.5,605.1 1436.6,654.6 1440.8,701.4 1445.0,702.3 1449.1,713.3 1453.3,734.4 1457.5,647.3 1461.6,654.6 1465.8,666.6 1469.9,641.8 1474.1,639.0 1478.3,612.4 1482.4,584.0 1486.6,590.4 1490.8,606.0 1494.9,606.9 1499.1,680.3 1503.3,693.2 1507.4,707.8 1511.6,719.8 1515.8,662.0 1519.9,703.3 1524.1,637.2 1528.2,690.4 1532.4,694.1 1536.6,699.6 1540.7,674.8 1544.9,699.6 1549.1,656.5 1553.2,665.6 1557.4,673.9 1561.6,658.3 1565.7,617.0 1569.9,640.9 1574.0,646.4 1578.2,645.5 1582.4,592.2 1586.5,632.6 1590.7,654.6 1594.9,623.4 1599.0,663.8 1603.2,637.2 1607.4,694.1 1611.5,645.5 1615.7,637.2 1619.9,654.6 1624.0,662.0 1628.2,651.9 1632.3,607.8 1636.5,597.8 1640.7,611.5 1644.8,590.4 1649.0,607.0 1653.2,597.5 1657.3,673.4 1661.5,677.2 1665.7,636.7 1669.8,602.8 1674.0,611.1 1678.1,613.8 1682.3,614.3 1686.5,610.3 1690.6,637.4 1694.8,667.8 1699.0,698.3 1703.1,730.9 1707.3,679.3 1711.5,629.9 1715.6,649.2 1719.8,640.9 1724.0,631.4 1728.1,631.9 1732.3,584.7 1736.4,577.4 1740.6,569.1 1744.8,554.0 1748.9,564.5 1753.1,586.0 1757.3,649.7 1761.4,625.8 1765.6,666.2 1769.8,705.5 1773.9,709.4 1778.1,679.9 1782.2,708.1 1786.4,672.0 1790.6,634.8 1794.7,661.9 1798.9,623.6 1803.1,638.5 1807.2,668.9 1811.4,632.9 1815.6,658.8 1819.7,577.3 1823.9,617.7 1828.1,592.7 1832.2,660.8 1836.4,633.6 1840.5,655.2 1844.7,621.3 1848.9,651.7 1853.0,657.7" fill="none" stroke="#4BACC6" stroke-width="4.0" stroke-linejoin="round" stroke-linecap="round"/>
<line x1="1064.2" y1="821.5" x2="1851.3" y2="821.5" stroke="#D9D9D9" stroke-width="1.3"/>
<line x1="1007" y1="912.5" x2="1851.3" y2="912.5" stroke="#D9D9D9" stroke-width="1.3"/>
<line x1="1007" y1="1003.5" x2="1851.3" y2="1003.5" stroke="#D9D9D9" stroke-width="1.3"/>
<line x1="1007" y1="1095.5" x2="1851.3" y2="1095.5" stroke="#D9D9D9" stroke-width="1.3"/>
<polyline points="1638.0,962.0 1642.2,938.4 1646.5,926.6 1650.7,1027.4 1654.9,1032.0 1659.1,979.8 1663.3,936.6 1667.6,951.1 1671.8,953.8 1676.0,953.8 1680.2,951.1 1684.5,985.4 1688.7,1025.0 1692.9,1064.6 1697.1,1108.3 1701.3,1042.0 1705.6,980.2 1709.8,1004.7 1714.0,993.8 1718.2,984.7 1722.5,984.7 1726.7,925.7 1730.9,913.9 1735.1,899.3 1739.3,884.8 1743.6,913.9 1747.8,944.8 1752.0,1015.6 1756.2,983.8 1760.5,1050.1 1764.7,1086.5 1768.9,1097.4 1773.1,1056.5 1777.3,1104.6 1781.6,1059.2 1785.8,1002.9 1790.0,1044.7 1794.2,988.4 1798.5,1008.3 1802.7,1049.2 1806.9,1004.7 1811.1,1037.4 1815.3,932.0 1819.6,972.0 1823.8,953.8 1828.0,1042.9 1832.2,1004.7 1836.5,1036.5 1840.7,993.8 1844.9,1037.4 1849.1,1042.9" fill="none" stroke="#C0504D" stroke-width="4.0" stroke-linejoin="round" stroke-linecap="round"/>
<polyline points="1638.0,962.0 1642.2,905.7 1646.5,888.0 1650.7,1039.2 1654.9,1046.0 1659.1,967.8 1663.3,903.0 1667.6,924.8 1671.8,928.9 1676.0,928.9 1680.2,924.8 1684.5,976.3 1688.7,1035.6 1692.9,1095.0 1697.1,1160.5 1701.3,1061.0 1705.6,968.4 1709.8,1005.2 1714.0,988.8 1718.2,975.2 1722.5,975.2 1726.7,886.6 1730.9,868.9 1735.1,847.1 1739.3,825.3 1743.6,868.9 1747.8,915.2 1752.0,1021.5 1756.2,973.8 1760.5,1073.3 1764.7,1127.8 1768.9,1144.2 1773.1,1082.8 1777.3,1155.1 1781.6,1086.9 1785.8,1002.4 1790.0,1065.1 1794.2,980.6 1798.5,1010.6 1802.7,1071.9 1806.9,1005.2 1811.1,1054.2 1815.3,896.1 1819.6,956.1 1823.8,928.9 1828.0,1062.4 1832.2,1005.2 1836.5,1052.9 1840.7,988.8 1844.9,1054.2 1849.1,1062.4" fill="none" stroke="#9BBB59" stroke-width="4.0" stroke-linejoin="round" stroke-linecap="round"/>
<polyline points="1638.0,962.0 1642.2,971.1 1646.5,965.2 1650.7,1015.6 1654.9,1017.9 1659.1,991.8 1663.3,970.2 1667.6,977.5 1671.8,978.8 1676.0,978.8 1680.2,977.5 1684.5,994.6 1688.7,1014.4 1692.9,1034.2 1697.1,1056.0 1701.3,1022.9 1705.6,992.0 1709.8,1004.3 1714.0,998.8 1718.2,994.3 1722.5,994.3 1726.7,964.7 1730.9,958.8 1735.1,951.6 1739.3,944.3 1743.6,958.8 1747.8,974.3 1752.0,1009.7 1756.2,993.8 1760.5,1027.0 1764.7,1045.1 1768.9,1050.6 1773.1,1030.1 1777.3,1054.2 1781.6,1031.5 1785.8,1003.3 1790.0,1024.2 1794.2,996.1 1798.5,1006.1 1802.7,1026.5 1806.9,1004.3 1811.1,1020.6 1815.3,967.9 1819.6,987.9 1823.8,978.8 1828.0,1023.3 1832.2,1004.3 1836.5,1020.2 1840.7,998.8 1844.9,1020.6 1849.1,1023.3" fill="none" stroke="#8064A2" stroke-width="4.0" stroke-linejoin="round" stroke-linecap="round"/>
<polyline points="1008.9,991.8 1013.1,1025.0 1017.3,1024.4 1021.6,998.0 1025.8,1000.2 1030.0,1003.1 1034.2,996.3 1038.5,994.6 1042.7,1001.4 1046.9,989.0 1051.1,988.4 1055.3,999.1 1059.6,1027.2 1063.8,1028.4 1068.0,1038.5 1072.2,1070.0 1076.5,1054.2 1080.7,1039.0 1084.9,1004.7 1089.1,969.9 1093.3,963.1 1097.6,996.9 1101.8,1036.2 1106.0,1039.0 1110.2,1002.5 1114.5,1001.4 1118.7,994.6 1122.9,1014.9 1127.1,1037.3 1131.3,1013.7 1135.6,1016.5 1139.8,1030.6 1144.0,1019.4 1148.2,996.9 1152.5,983.4 1156.7,972.7 1160.9,992.4 1165.1,976.6 1169.3,987.9 1173.6,990.7 1177.8,971.6 1182.0,971.0 1186.2,983.4 1190.5,967.1 1194.7,985.6 1198.9,1009.8 1203.1,1001.4 1207.3,1001.4 1211.6,1004.2 1215.8,1012.6 1220.0,1024.4 1224.2,994.1 1228.5,1028.4 1232.7,997.4 1236.9,1019.4 1241.1,996.3 1245.3,1023.9 1249.6,1003.6 1253.8,1016.0 1258.0,992.9 1262.2,1009.8 1266.5,986.8 1270.7,986.8 1274.9,995.7 1279.1,1007.0 1283.3,1030.6 1287.6,1021.0 1291.8,1018.8 1296.0,977.8 1300.2,986.8 1304.5,991.8 1308.7,993.5 1312.9,1009.2 1317.1,1007.6 1321.3,1003.6 1325.6,982.3 1329.8,963.1 1334.0,939.5 1338.2,1001.4 1342.5,992.4 1346.7,1001.4 1350.9,1003.6 1355.1,998.6 1359.3,977.8 1363.6,967.6 1367.8,993.5 1372.0,994.6 1376.2,987.9 1380.5,998.6 1384.7,977.8 1388.9,975.5 1393.1,970.4 1397.3,981.1 1401.6,993.5 1405.8,1004.7 1410.0,994.6 1414.2,1025.5 1418.5,994.6 1422.7,971.0 1426.9,1001.4 1431.1,1030.0 1435.3,1030.6 1439.6,1037.3 1443.8,1050.3 1448.0,996.9 1452.2,1001.4 1456.5,1008.7 1460.7,993.5 1464.9,991.8 1469.1,975.5 1473.3,958.1 1477.6,962.0 1481.8,971.6 1486.0,972.1 1490.2,1017.1 1494.5,1025.0 1498.7,1034.0 1502.9,1041.3 1507.1,1005.9 1511.3,1031.2 1515.6,990.7 1519.8,1023.3 1524.0,1025.5 1528.2,1028.9 1532.5,1013.7 1536.7,1028.9 1540.9,1002.5 1545.1,1008.1 1549.3,1013.2 1553.6,1003.6 1557.8,978.3 1562.0,992.9 1566.2,996.3 1570.5,995.7 1574.7,963.1 1578.9,987.9 1583.1,1001.4 1587.3,982.3 1591.6,1007.0 1595.8,990.7 1600.0,1025.5 1604.2,995.7 1608.5,990.7 1612.7,1001.4 1616.9,1005.9 1621.1,999.7 1625.3,972.7 1629.6,966.5 1633.8,974.9 1638.0,962.0 1642.2,987.4 1646.5,984.5 1650.7,1009.7 1654.9,1010.8 1659.1,997.8 1663.3,987.0 1667.6,990.6 1671.8,991.3 1676.0,991.3 1680.2,990.6 1684.5,999.2 1688.7,1009.1 1692.9,1019.0 1697.1,1029.9 1701.3,1013.3 1705.6,997.9 1709.8,1004.0 1714.0,1001.3 1718.2,999.0 1722.5,999.0 1726.7,984.3 1730.9,981.3 1735.1,977.7 1739.3,974.0 1743.6,981.3 1747.8,989.0 1752.0,1006.8 1756.2,998.8 1760.5,1015.4 1764.7,1024.5 1768.9,1027.2 1773.1,1017.0 1777.3,1029.0 1781.6,1017.7 1785.8,1003.6 1790.0,1014.0 1794.2,999.9 1798.5,1004.9 1802.7,1015.2 1806.9,1004.0 1811.1,1012.2 1815.3,985.9 1819.6,995.9 1823.8,991.3 1828.0,1013.6 1832.2,1004.0 1836.5,1012.0 1840.7,1001.3 1844.9,1012.2 1849.1,1013.6" fill="none" stroke="#4BACC6" stroke-width="4.0" stroke-linejoin="round" stroke-linecap="round"/>
<g stroke="#868686" stroke-width="1.6" fill="none">
<line x1="131.1" y1="1184.3" x2="957.9" y2="1184.3" stroke="#868686" stroke-width="1.6"/>
<line x1="131.1" y1="1175" x2="131.1" y2="1184.3"/>
<line x1="213.8" y1="1175" x2="213.8" y2="1184.3"/>
<line x1="296.5" y1="1175" x2="296.5" y2="1184.3"/>
<line x1="379.1" y1="1175" x2="379.1" y2="1184.3"/>
<line x1="461.8" y1="1175" x2="461.8" y2="1184.3"/>
<line x1="544.5" y1="1175" x2="544.5" y2="1184.3"/>
<line x1="627.2" y1="1175" x2="627.2" y2="1184.3"/>
<line x1="709.9" y1="1175" x2="709.9" y2="1184.3"/>
<line x1="792.5" y1="1175" x2="792.5" y2="1184.3"/>
<line x1="875.2" y1="1175" x2="875.2" y2="1184.3"/>
<line x1="957.9" y1="1175" x2="957.9" y2="1184.3"/>
</g>
<g stroke="#000" stroke-width="1.6" fill="none">
<line x1="1007.0" y1="1186.3" x2="1851.6" y2="1186.3" stroke="#000" stroke-width="1.6"/>
<line x1="1007.0" y1="1177" x2="1007.0" y2="1186.3"/>
<line x1="1091.4" y1="1177" x2="1091.4" y2="1186.3"/>
<line x1="1175.9" y1="1177" x2="1175.9" y2="1186.3"/>
<line x1="1260.3" y1="1177" x2="1260.3" y2="1186.3"/>
<line x1="1344.8" y1="1177" x2="1344.8" y2="1186.3"/>
<line x1="1429.2" y1="1177" x2="1429.2" y2="1186.3"/>
<line x1="1513.7" y1="1177" x2="1513.7" y2="1186.3"/>
<line x1="1598.1" y1="1177" x2="1598.1" y2="1186.3"/>
<line x1="1682.6" y1="1177" x2="1682.6" y2="1186.3"/>
<line x1="1767.0" y1="1177" x2="1767.0" y2="1186.3"/>
<line x1="1851.6" y1="1177" x2="1851.6" y2="1186.3"/>
</g>
<g fill="#000">
<text transform="translate(87.35,22.72) scale(0.2817,0.2817)" font-size="100">6</text>
<text transform="translate(86.06,87.8) scale(0.2899,0.2899)" font-size="100">4</text>
<text transform="translate(87.14,152.6) scale(0.2857,0.2857)" font-size="100">2</text>
<text transform="translate(87.63,217.12) scale(0.2817,0.2817)" font-size="100">0</text>
<text transform="translate(77.71,282.2) scale(0.2857,0.2857)" font-size="100">-2</text>
<text transform="translate(76.49,347) scale(0.2899,0.2899)" font-size="100">-4</text>
<text transform="translate(73.56,431.98) scale(0.2817,0.2817)" font-size="100">20</text>
<text transform="translate(72.84,496.53) scale(0.2857,0.2857)" font-size="100">15</text>
<text transform="translate(73.56,561.1) scale(0.2817,0.2817)" font-size="100">10</text>
<text transform="translate(88.56,625.65) scale(0.2857,0.2857)" font-size="100">5</text>
<text transform="translate(89.33,690.22) scale(0.2817,0.2817)" font-size="100">0</text>
<text transform="translate(79.13,754.77) scale(0.2857,0.2857)" font-size="100">-5</text>
<text transform="translate(87.35,845.54) scale(0.2817,0.2817)" font-size="100">6</text>
<text transform="translate(86.06,903.78) scale(0.2899,0.2899)" font-size="100">4</text>
<text transform="translate(87.14,961.74) scale(0.2857,0.2857)" font-size="100">2</text>
<text transform="translate(87.63,1019.42) scale(0.2817,0.2817)" font-size="100">0</text>
<text transform="translate(77.71,1077.66) scale(0.2857,0.2857)" font-size="100">-2</text>
<text transform="translate(76.49,1135.62) scale(0.2899,0.2899)" font-size="100">-4</text>
<text transform="translate(78.06,1193.3) scale(0.2817,0.2817)" font-size="100">-6</text>
<text transform="translate(1876.65,22.17) scale(0.2817,0.2817)" font-size="100">8</text>
<text transform="translate(1876.37,81.77) scale(0.2817,0.2817)" font-size="100">6</text>
<text transform="translate(1876.92,141.65) scale(0.2899,0.2899)" font-size="100">4</text>
<text transform="translate(1876.64,201.25) scale(0.2857,0.2857)" font-size="100">2</text>
<text transform="translate(1876.37,260.57) scale(0.2817,0.2817)" font-size="100">0</text>
<text transform="translate(1876.36,320.45) scale(0.2857,0.2857)" font-size="100">-2</text>
<text transform="translate(1876.34,380.05) scale(0.2899,0.2899)" font-size="100">-4</text>
<text transform="translate(1883.47,429.32) scale(0.2761,0.2761)" font-size="100">8</text>
<text transform="translate(1883.2,488.92) scale(0.2761,0.2761)" font-size="100">6</text>
<text transform="translate(1883.73,548.8) scale(0.2841,0.2841)" font-size="100">4</text>
<text transform="translate(1883.46,608.4) scale(0.2800,0.2800)" font-size="100">2</text>
<text transform="translate(1883.2,667.72) scale(0.2761,0.2761)" font-size="100">0</text>
<text transform="translate(1883.18,727.6) scale(0.2800,0.2800)" font-size="100">-2</text>
<text transform="translate(1883.16,787.2) scale(0.2841,0.2841)" font-size="100">-4</text>
<text transform="translate(1879.59,830.62) scale(0.2845,0.2845)" font-size="100">10</text>
<text transform="translate(1880.43,921.91) scale(0.2886,0.2886)" font-size="100">5</text>
<text transform="translate(1880.16,1013.22) scale(0.2845,0.2845)" font-size="100">0</text>
<text transform="translate(1880.15,1104.51) scale(0.2886,0.2886)" font-size="100">-5</text>
<text transform="translate(1880.16,1195.82) scale(0.2845,0.2845)" font-size="100">-10</text>
<text transform="translate(124.97,1233.3) scale(0.2723,0.2725)" font-size="100">1</text>
<text transform="translate(1001.27,1235.8) scale(0.2723,0.2841)" font-size="100">1</text>
<text transform="translate(200.46,1233.3) scale(0.2743,0.2686)" font-size="100">21</text>
<text transform="translate(1078.52,1235.8) scale(0.2743,0.2800)" font-size="100">21</text>
<text transform="translate(283.42,1233.3) scale(0.2717,0.2725)" font-size="100">41</text>
<text transform="translate(1163.24,1235.8) scale(0.2717,0.2841)" font-size="100">41</text>
<text transform="translate(365.53,1233.04) scale(0.2769,0.2648)" font-size="100">61</text>
<text transform="translate(1247.12,1235.52) scale(0.2769,0.2761)" font-size="100">61</text>
<text transform="translate(448.5,1233.04) scale(0.2743,0.2648)" font-size="100">81</text>
<text transform="translate(1331.85,1235.52) scale(0.2743,0.2761)" font-size="100">81</text>
<text transform="translate(522.89,1233.04) scale(0.2766,0.2648)" font-size="100">101</text>
<text transform="translate(1408.01,1235.52) scale(0.2766,0.2761)" font-size="100">101</text>
<text transform="translate(605.57,1233.3) scale(0.2766,0.2686)" font-size="100">121</text>
<text transform="translate(1492.45,1235.8) scale(0.2766,0.2800)" font-size="100">121</text>
<text transform="translate(688.25,1233.3) scale(0.2766,0.2725)" font-size="100">141</text>
<text transform="translate(1576.9,1235.8) scale(0.2766,0.2841)" font-size="100">141</text>
<text transform="translate(770.93,1233.04) scale(0.2766,0.2648)" font-size="100">161</text>
<text transform="translate(1661.34,1235.52) scale(0.2766,0.2761)" font-size="100">161</text>
<text transform="translate(853.61,1233.04) scale(0.2766,0.2648)" font-size="100">181</text>
<text transform="translate(1745.79,1235.52) scale(0.2766,0.2761)" font-size="100">181</text>
<text transform="translate(441.69,1292.38) scale(0.4038,0.4440)" font-size="100">Steps</text>
<text transform="translate(1329.79,1294.7) scale(0.4049,0.4429)" font-size="100">Steps</text>
<text transform="translate(36.1,722.2) rotate(-90) scale(0.4326,0.4638)" font-size="100">Arbitrary units</text>
<text transform="translate(1957.6,426.7) rotate(90) scale(0.4318,0.4638)" font-size="100">Arbitrary units</text>
<text transform="translate(128.65,50.34) scale(0.5167,0.5441)" font-size="100">A</text>
<text transform="translate(133.75,461.2) scale(0.4361,0.5304)" font-size="100">B</text>
<text transform="translate(127.63,870.87) scale(0.4169,0.5282)" font-size="100">C</text>
<text transform="translate(1001.12,52.1) scale(0.4967,0.5261)" font-size="100">D</text>
<text transform="translate(1009.45,461.7) scale(0.3786,0.5232)" font-size="100">E</text>
<text transform="translate(1012.76,872.6) scale(0.4060,0.5290)" font-size="100">F</text>
<line x1="127.2" y1="1143.4" x2="163.3" y2="1143.4" stroke="#4F81BD" stroke-width="4.0" stroke-linecap="round"/>
<text transform="translate(169,1152.22) scale(0.2699,0.2811)" font-size="100">white noise</text>
<line x1="341" y1="1143.4" x2="376.8" y2="1143.4" stroke="#C0504D" stroke-width="4.0" stroke-linecap="round"/>
<text transform="translate(381.07,1152.1) scale(0.2723,0.2812)" font-size="100">1</text>
<line x1="422.1" y1="1143.4" x2="458" y2="1143.4" stroke="#9BBB59" stroke-width="4.0" stroke-linecap="round"/>
<text transform="translate(462.75,1151.83) scale(0.2754,0.2686)" font-size="100">1.5</text>
<line x1="526.7" y1="1143.4" x2="562.5" y2="1143.4" stroke="#8064A2" stroke-width="4.0" stroke-linecap="round"/>
<text transform="translate(567.18,1151.84) scale(0.2811,0.2648)" font-size="100">0.5</text>
<line x1="631.7" y1="1143.4" x2="667.6" y2="1143.4" stroke="#4BACC6" stroke-width="4.0" stroke-linecap="round"/>
<text transform="translate(671.47,1151.84) scale(0.2814,0.2648)" font-size="100">0.25</text>
<line x1="1026.4" y1="1138.5" x2="1062.2" y2="1138.5" stroke="#4F81BD" stroke-width="4.0" stroke-linecap="round"/>
<text transform="translate(1066.14,1147.31) scale(0.2664,0.2851)" font-size="100">red noise</text>
<line x1="1219.4" y1="1138.5" x2="1255" y2="1138.5" stroke="#C0504D" stroke-width="4.0" stroke-linecap="round"/>
<text transform="translate(1259.47,1147.2) scale(0.2553,0.2783)" font-size="100">1</text>
<line x1="1309.7" y1="1138.5" x2="1344.9" y2="1138.5" stroke="#9BBB59" stroke-width="4.0" stroke-linecap="round"/>
<text transform="translate(1349.85,1146.93) scale(0.2746,0.2657)" font-size="100">1.5</text>
<line x1="1423.8" y1="1138.5" x2="1459" y2="1138.5" stroke="#8064A2" stroke-width="4.0" stroke-linecap="round"/>
<text transform="translate(1463.29,1146.94) scale(0.2773,0.2620)" font-size="100">0.5</text>
<line x1="1537.7" y1="1138.5" x2="1572.7" y2="1138.5" stroke="#4BACC6" stroke-width="4.0" stroke-linecap="round"/>
<text transform="translate(1577.5,1146.94) scale(0.2761,0.2620)" font-size="100">0.25</text>
</g>
</svg></body></html>
